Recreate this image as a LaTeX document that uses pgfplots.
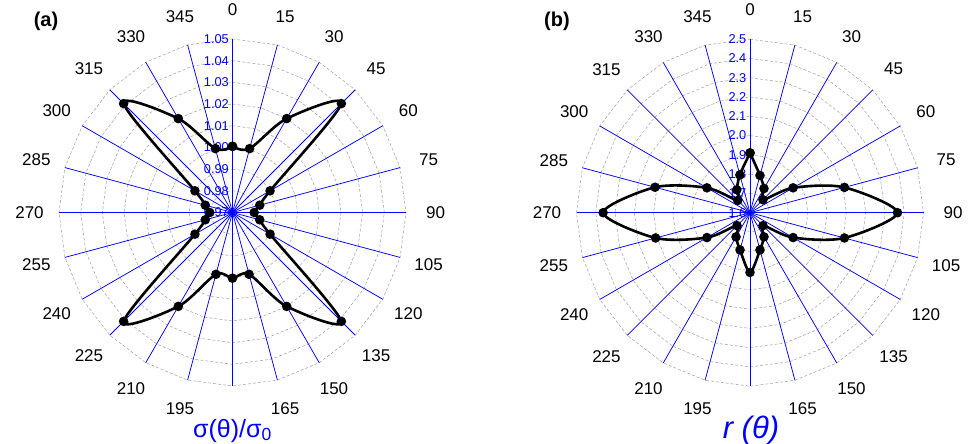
\documentclass[border=0pt]{standalone}
\usepackage{fontspec}
\setmainfont{Liberation Sans}
\usepackage{pgfplots}
\pgfplotsset{compat=1.18}
\usepackage{pgfplotstable}

\pgfplotstableread{
a v
0 1.0005
15 1.0005
30 1.020
45 1.041
60 0.990
75 0.983
90 0.980
105 0.983
120 0.990
135 1.041
150 1.020
165 0.9995
180 1.0003
195 0.9995
210 1.020
225 1.041
240 0.990
255 0.983
270 0.9805
285 0.983
300 0.990
315 1.041
330 1.020
345 1.0005
360 1.0005
}\sigmatable

\pgfplotstableread{
a v
0 1.91
15 1.80
30 1.745
45 1.695
60 1.858
75 2.107
90 2.365
105 2.107
120 1.858
135 1.695
150 1.745
165 1.80
180 1.91
195 1.80
210 1.745
225 1.695
240 1.858
255 2.107
270 2.362
285 2.110
300 1.858
315 1.690
330 1.737
345 1.803
360 1.91
}\rtable

\newcommand{\anglelabels}{%
  \foreach \t in {0,15,30,45,60,75,90,105,120,135,150,165,195,210,225,240,255,270,285,300,315,330,345}
    \node[font=\fontsize{17bp}{20bp}\selectfont, inner sep=0pt] at ({90-\t}:203bp) {\t};
}
\newcommand{\polargrid}[1]{% #1 = number of levels
  \foreach \k in {1,...,#1} {
    \pgfmathsetmacro\rr{173.5*\k/#1}
    \draw[gray!65, dashed, dash pattern=on 3bp off 2bp, line width=0.6bp]
      (90:\rr bp) \foreach \a in {75,60,...,-255} { -- (\a:\rr bp) } -- cycle;
  }
  \foreach \a in {0,15,...,345}
    \draw[blue, line width=0.75bp] (0,0) -- (\a:173.5bp);
}

\begin{document}
\begin{tikzpicture}
% ---------- panel (a) decorations
\begin{scope}[shift={(232.5bp,231.5bp)}]
  \polargrid{8}
  \foreach \k/\lab in {0/0.97,1/0.98,2/0.99,3/1.00,4/1.01,5/1.02,6/1.03,7/1.04,8/1.05}
    \node[blue, font=\fontsize{12.8bp}{14bp}\selectfont, anchor=east, inner sep=0pt]
      at (-3.5bp, {173.5bp*\k/8}) {\lab};
  \anglelabels
\end{scope}
% ---------- panel (b) decorations
\begin{scope}[shift={(750bp,231.3bp)}]
  \polargrid{9}
  \foreach \k/\lab in {0/1.6,1/1.7,2/1.8,3/1.9,4/2.0,5/2.1,6/2.2,7/2.3,8/2.4,9/2.5}
    \node[blue, font=\fontsize{12.8bp}{14bp}\selectfont, anchor=east, inner sep=0pt]
      at (-3.5bp, {173.5bp*\k/9}) {\lab};
  \anglelabels
\end{scope}

% ---------- data (a)
\begin{axis}[at={(232.5bp,231.5bp)}, anchor=center,
  x=173.5bp, y=173.5bp, xmin=-1.2, xmax=1.2, ymin=-1.2, ymax=1.2,
  hide axis, clip=false]
\addplot[black, line width=2.6bp, smooth, tension=0.5, mark=*, mark size=3.4bp,
  mark options={solid, fill=black}]
  table[x expr={(\thisrow{v}-0.97)/0.08*sin(\thisrow{a})},
        y expr={(\thisrow{v}-0.97)/0.08*cos(\thisrow{a})}] {\sigmatable};
\end{axis}

% ---------- data (b)
\begin{axis}[at={(750bp,231.3bp)}, anchor=center,
  x=173.5bp, y=173.5bp, xmin=-1.2, xmax=1.2, ymin=-1.2, ymax=1.2,
  hide axis, clip=false]
\addplot[black, line width=2.6bp, smooth, tension=0.5, mark=*, mark size=3.4bp,
  mark options={solid, fill=black}]
  table[x expr={(\thisrow{v}-1.6)/0.9*sin(\thisrow{a})},
        y expr={(\thisrow{v}-1.6)/0.9*cos(\thisrow{a})}] {\rtable};
\end{axis}

% ---------- titles
\node[font=\bfseries\fontsize{20bp}{24bp}\selectfont, inner sep=0pt] at (46bp,423bp) {(a)};
\node[font=\bfseries\fontsize{20bp}{24bp}\selectfont, inner sep=0pt] at (557bp,423bp) {(b)};
\node[blue, font=\fontsize{25bp}{28bp}\selectfont, anchor=base, inner sep=0pt] at (232.5bp,7bp) {σ(θ)/σ\textsubscript{0}};
\node[blue, font=\itshape\fontsize{31bp}{34bp}\selectfont, anchor=base, inner sep=0pt] at (751bp,6bp) {r (θ)};

\pgfresetboundingbox
\path[use as bounding box] (0,0) rectangle (974bp,444bp);
\end{tikzpicture}
\end{document}
